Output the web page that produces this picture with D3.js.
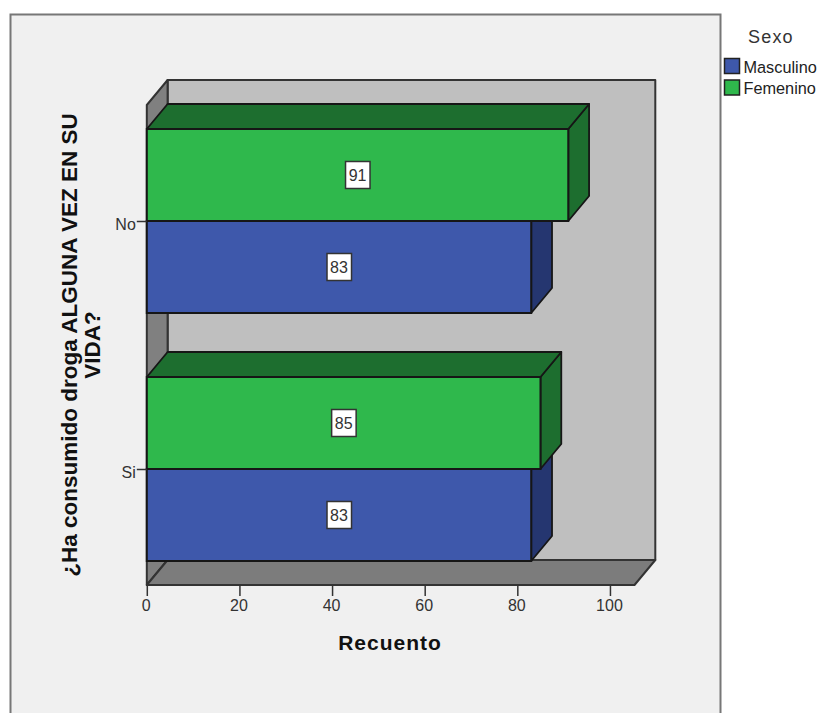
<!DOCTYPE html>
<html>
<head>
<meta charset="utf-8">
<script src="https://cdnjs.cloudflare.com/ajax/libs/d3/7.8.5/d3.min.js"></script>
<style>
html,body{margin:0;padding:0;background:#fff;overflow:hidden}
svg{display:block}
text{font-family:"Liberation Sans",Arial,sans-serif}
</style>
</head>
<body>
<svg id="c" width="818" height="713"></svg>
<script>
const categories = ["No", "Si"];
const seriesNames = ["Femenino", "Masculino"];
const femenino = [91, 85];
const masculino = [83, 83];
const xTicks = [0, 20, 40, 60, 80, 100];
const legendNames = ["Masculino", "Femenino"];
const yTitleLines = ["¿Ha consumido droga ALGUNA VEZ EN SU", "VIDA?"];
const xTitle = "Recuento";
const legendTitle = "Sexo";

const colors = {
  Masculino: {front: "#3E58AB", side: "#253670", top: "#253670"},
  Femenino: {front: "#2FB84C", side: "#1D6E2F", top: "#1D6E2F"}
};
const stroke = "#161616";
const depthX = 20.8, depthY = -25;

const svg = d3.select("#c");
const x = d3.scaleLinear().domain([0, 105.3]).range([146.8, 634.5]);
const y = d3.scaleBand().domain(categories).range([129, 561]).paddingInner(64 / 248).paddingOuter(0);
const ySeries = d3.scaleBand().domain(seriesNames).range([0, y.bandwidth()]);
const line = d3.line();

// panel
svg.append("rect").attr("x", 10.5).attr("y", 14.5).attr("width", 710).attr("height", 720)
  .attr("fill", "#F0F0F0").attr("stroke", "#777").attr("stroke-width", 2);

const x0 = x(0), x1 = x.range()[1], yTop = 129 - 24, yBot = 561 + 24;
const poly = (pts, fill, sw = 1.8, sc = stroke) => svg.append("path")
  .attr("d", line(pts) + "Z").attr("fill", fill).attr("stroke", sc)
  .attr("stroke-width", sw).attr("stroke-linejoin", "round");

// walls
const bt = yTop + depthY, bb = yBot + depthY;
poly([[x0 + depthX, bt], [x1 + depthX, bt], [x1 + depthX, bb], [x0 + depthX, bb]], "#BFBFBF", 2, "#333");
poly([[x0, yTop], [x0 + depthX, bt], [x0 + depthX, bb], [x0, yBot]], "#808080", 2, "#333");
poly([[x0, yBot], [x0 + depthX, bb], [x1 + depthX, bb], [x1, yBot]], "#7C7C7C", 2, "#333");

// bars
const rows = categories.flatMap((c, i) => [
  {c, s: "Masculino", v: masculino[i]},
  {c, s: "Femenino", v: femenino[i]}
]);
rows.forEach(d => {
  const top = y(d.c) + ySeries(d.s), h = ySeries.bandwidth(), r = x(d.v), col = colors[d.s];
  poly([[r, top], [r + depthX, top + depthY], [r + depthX, top + h + depthY], [r, top + h]], col.side);
  poly([[x0, top], [x0 + depthX, top + depthY], [r + depthX, top + depthY], [r, top]], col.top);
  svg.append("rect").attr("x", x0).attr("y", top).attr("width", r - x0).attr("height", h)
    .attr("fill", col.front).attr("stroke", stroke).attr("stroke-width", 2);
});
rows.forEach(d => {
  const cx = (x0 + x(d.v)) / 2, cy = y(d.c) + ySeries(d.s) + ySeries.bandwidth() / 2;
  svg.append("rect").attr("x", cx - 12).attr("y", cy - 13.5).attr("width", 24.5).attr("height", 27)
    .attr("fill", "#fff").attr("stroke", "#333").attr("stroke-width", 1.5);
  svg.append("text").attr("x", cx).attr("y", cy + 6).attr("text-anchor", "middle")
    .attr("font-size", 16).attr("fill", "#333").text(d.v);
});

// axes
const gx = svg.append("g").attr("transform", `translate(0,${yBot})`)
  .call(d3.axisBottom(x).tickValues(xTicks).tickSize(11).tickPadding(4));
gx.select(".domain").remove();
gx.selectAll("line").attr("stroke", "#333").attr("stroke-width", 1.5);
gx.selectAll("text").attr("font-size", 16).attr("fill", "#333").attr("dx", -1);

const yTickScale = d3.scaleOrdinal().domain(categories)
  .range(categories.map(c => y(c) + y.bandwidth() / 2));
const gy = svg.append("g").attr("transform", `translate(${x0},0)`)
  .call(d3.axisLeft(yTickScale).tickSize(10).tickPadding(1));
gy.select(".domain").remove();
gy.selectAll("line").attr("stroke", "#333").attr("stroke-width", 1.5);
gy.selectAll("text").attr("font-size", 16).attr("fill", "#333").attr("dy", "0.62em").attr("y", -1);

// titles
svg.append("text").attr("x", 390).attr("y", 650).attr("text-anchor", "middle")
  .attr("font-size", 21).attr("font-weight", "bold").attr("letter-spacing", 1).attr("fill", "#111").text(xTitle);
yTitleLines.forEach((t, i) => {
  svg.append("text").attr("transform", `translate(${77 + i * 23},345) rotate(-90)`)
    .attr("text-anchor", "middle").attr("font-size", 22.5).attr("font-weight", "bold")
    .attr("fill", "#111").text(t);
});

// legend
svg.append("text").attr("x", 748).attr("y", 43).attr("font-size", 18)
  .attr("letter-spacing", 1.2).attr("fill", "#333").text(legendTitle);
legendNames.forEach((n, i) => {
  const ly = 58.5 + i * 21.5;
  svg.append("rect").attr("x", 724.5).attr("y", ly).attr("width", 15).attr("height", 15)
    .attr("fill", colors[n].front).attr("stroke", "#222").attr("stroke-width", 1.5);
  svg.append("text").attr("x", 743.5).attr("y", ly + 14).attr("font-size", 16.3)
    .attr("fill", "#222").text(n);
});
</script>
</body>
</html>
